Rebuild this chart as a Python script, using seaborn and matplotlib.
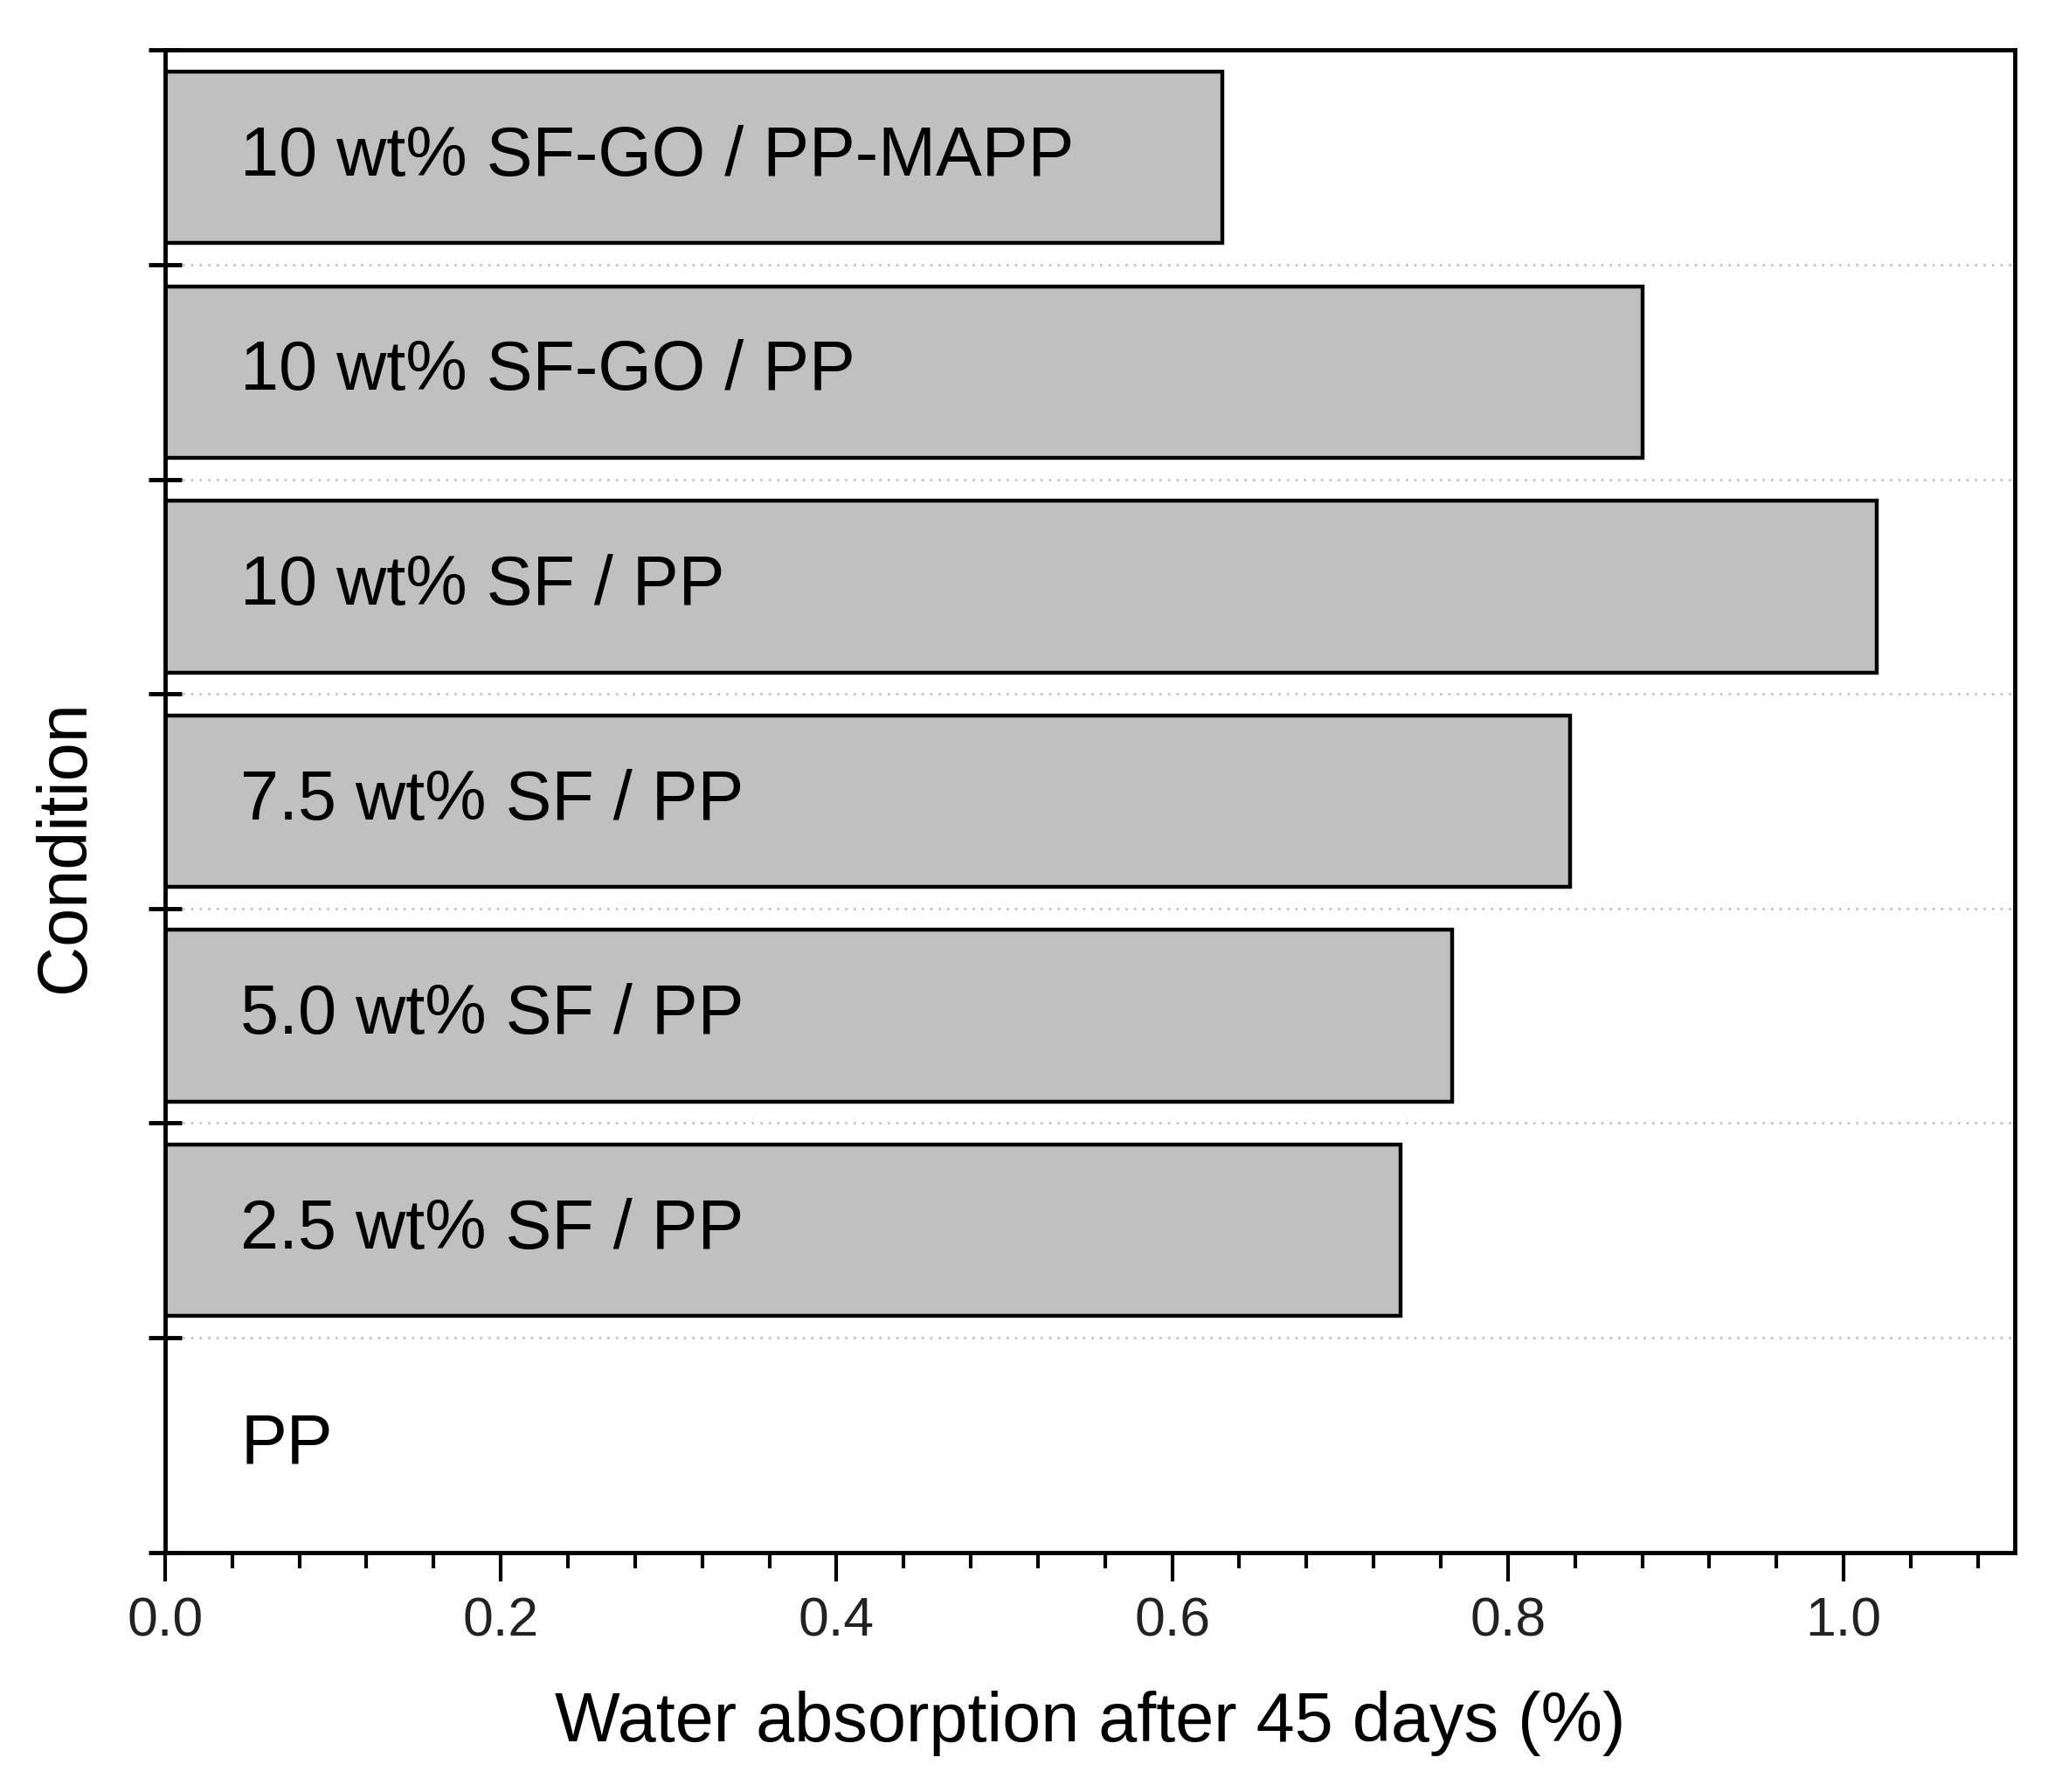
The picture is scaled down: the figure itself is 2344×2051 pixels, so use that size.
import numpy as np
import seaborn as sns
import matplotlib.pyplot as plt
from matplotlib.ticker import MultipleLocator, FixedLocator, NullFormatter

conditions = [
    "10 wt% SF-GO / PP-MAPP",
    "10 wt% SF-GO / PP",
    "10 wt% SF / PP",
    "7.5 wt% SF / PP",
    "5.0 wt% SF / PP",
    "2.5 wt% SF / PP",
    "PP",
]
absorption = [0.630, 0.880, 1.020, 0.837, 0.767, 0.736, 0.0]

sns.set_theme(style="ticks")
plt.rcParams["font.family"] = ["Liberation Sans", "DejaVu Sans"]

fig = plt.figure(figsize=(23.44, 20.51), dpi=100)
ax = fig.add_axes([0.0806, 0.1338, 0.9032, 0.8382])

sns.barplot(
    x=absorption,
    y=conditions,
    orient="h",
    color="#c0c0c0",
    saturation=1,
    edgecolor="black",
    linewidth=3.2,
    width=0.8,
    ax=ax,
)

for i, label in enumerate(conditions):
    ax.text(0.045, i, label, ha="left", va="center", fontsize=57, color="black")

ax.set_xlim(0, 1.102)
ax.set_ylim(len(conditions) - 0.5, -0.5)

# x axis ticks
ax.xaxis.set_major_locator(MultipleLocator(0.2))
ax.xaxis.set_minor_locator(MultipleLocator(0.04))
ax.xaxis.set_major_formatter(plt.FuncFormatter(lambda v, p: f"{v:.1f}"))
ax.tick_params(axis="x", which="major", direction="out", length=24, width=3,
               labelsize=45, pad=12, color="black", labelcolor="#222222")
ax.tick_params(axis="x", which="minor", direction="out", length=13, width=3,
               color="black")

# y axis: ticks on row boundaries, no labels
bounds = np.arange(-0.5, len(conditions), 1.0)
ax.yaxis.set_major_locator(FixedLocator(bounds))
ax.yaxis.set_major_formatter(NullFormatter())
ax.yaxis.set_minor_locator(FixedLocator([]))
ax.tick_params(axis="y", which="major", direction="inout", length=28, width=3.5,
               color="black")
ax.grid(axis="y", linestyle=(0, (1, 2.5)), color="#c4c4c4", linewidth=2)
ax.set_axisbelow(True)

for side in ["left", "right", "top", "bottom"]:
    ax.spines[side].set_visible(True)
    ax.spines[side].set_color("black")
    ax.spines[side].set_linewidth(3.5)

ax.set_xlabel("Water absorption after 45 days (%)", fontsize=57, color="black")
ax.set_ylabel("Condition", fontsize=57, color="black")
ax.xaxis.set_label_coords(0.5, -0.092)
ax.yaxis.set_label_coords(-0.036, 0.47)

fig.savefig("out.png", dpi=100, facecolor="white")
